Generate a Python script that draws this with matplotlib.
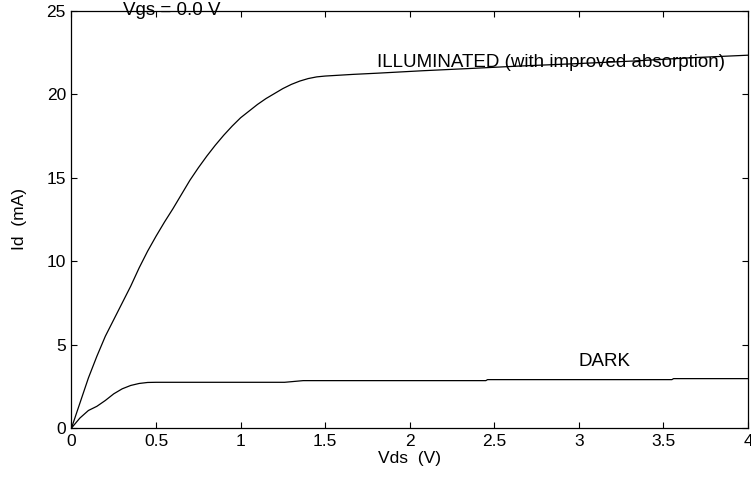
import matplotlib
matplotlib.use("Agg")
import matplotlib.pyplot as plt

# Illuminated (with improved absorption) curve, Vds (V) vs Id (mA)
vds_illum = [0, 0.05, 0.1, 0.15, 0.2, 0.25, 0.3, 0.35, 0.4, 0.45,
             0.5, 0.55, 0.6, 0.65, 0.7, 0.75, 0.8, 0.85, 0.9, 0.95,
             1.0, 1.05, 1.1, 1.15, 1.2, 1.25, 1.3, 1.35, 1.4, 1.45,
             1.5, 1.665, 1.806, 2.08, 2.37, 2.65, 3.0, 3.32, 3.67, 4.0]
id_illum = [0, 1.5, 3.0, 4.3, 5.5, 6.5, 7.5, 8.5, 9.6, 10.6,
            11.5, 12.35, 13.15, 14.0, 14.85, 15.6, 16.3, 16.95, 17.55, 18.1,
            18.6, 19.0, 19.4, 19.75, 20.05, 20.35, 20.6, 20.8, 20.95, 21.05,
            21.1, 21.2, 21.27, 21.42, 21.56, 21.7, 21.85, 22.0, 22.2, 22.35]

# Dark curve
vds_dark = [0, 0.05, 0.1, 0.15, 0.2, 0.25, 0.3, 0.35, 0.4, 0.45,
            0.5, 1.26, 1.37, 2.0, 2.45, 2.46, 3.0, 3.55, 3.56, 4.0]
id_dark = [0, 0.6, 1.05, 1.3, 1.65, 2.05, 2.35, 2.55, 2.67, 2.73,
           2.74, 2.74, 2.84, 2.84, 2.84, 2.9, 2.9, 2.9, 2.96, 2.96]

x_ticks = [0, 0.5, 1, 1.5, 2, 2.5, 3, 3.5, 4]
x_tick_labels = ["0", "0.5", "1", "1.5", "2", "2.5", "3", "3.5", "4"]
y_ticks = [0, 5, 10, 15, 20, 25]

plt.rcParams["font.family"] = ["Liberation Sans", "DejaVu Sans"]

fig = plt.figure(figsize=(7.51, 4.78), dpi=100)
ax = fig.add_axes([0.0952, 0.1046, 0.9008, 0.8724])

ax.plot(vds_illum, id_illum, color="black", linewidth=0.9)
ax.plot(vds_dark, id_dark, color="black", linewidth=0.9)

ax.set_xlim(0, 4)
ax.set_ylim(0, 25)
ax.set_xticks(x_ticks)
ax.set_xticklabels(x_tick_labels)
ax.set_yticks(y_ticks)
ax.tick_params(direction="in", length=4, width=0.8, labelsize=12.5,
               top=True, right=True, pad=4)
for spine in ax.spines.values():
    spine.set_linewidth(0.9)

ax.set_xlabel("Vds  (V)", fontsize=12.5, labelpad=2)
ax.set_ylabel("Id  (mA)", fontsize=12.5, labelpad=14)

ax.text(0.305, 25, "Vgs = 0.0 V", fontsize=13.5, ha="left", va="center")
ax.text(1.805, 21.94, "ILLUMINATED (with improved absorption)", fontsize=13.5,
        ha="left", va="center")
ax.text(3.0, 3.97, "DARK", fontsize=13.5, ha="left", va="center")

fig.savefig("out.png", dpi=100)
